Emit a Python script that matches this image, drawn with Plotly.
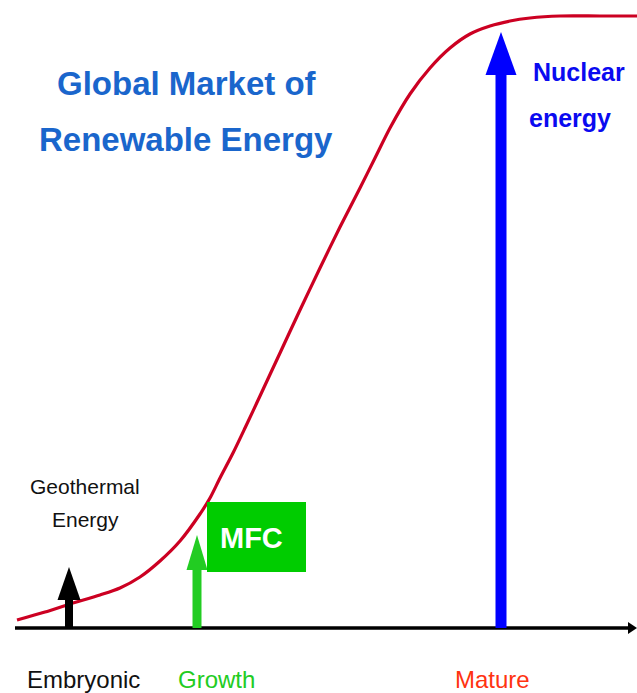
import plotly.graph_objects as go

# ---------------- data ----------------
# S-curve of market size (x: maturity axis, y: market level above baseline)
curve_x = [17, 45, 70, 100, 120, 140, 160, 180, 200, 210, 220, 233, 245, 260, 280, 300, 320, 340,
           360, 375, 390, 410, 430, 450, 470, 490, 510, 530, 560, 600, 637]
curve_y = [8, 16, 24, 33, 40, 51, 67, 87, 114, 130, 150, 175, 200, 232, 275, 318, 360, 401,
           440, 470, 500, 534, 560, 580, 594, 602, 607, 610, 612, 612, 612]

stages = ["Embryonic", "Growth", "Mature"]
stage_x = [83, 216, 492]

tech_names = ["Geothermal Energy", "MFC", "Nuclear energy"]
tech_x = [69, 197, 501]
tech_level = [61, 93, 596]

title_lines = ["Global Market of", "Renewable Energy"]

# ---------------- style ----------------
W, H = 637, 693
BASE_PX = 628          # pixel row of the baseline
Y_MIN, Y_MAX = BASE_PX - H, BASE_PX
FONT = "Liberation Sans, Arial, sans-serif"

stage_colors = ["#111111", "#22cc22", "#ff3311"]
tech_colors = ["#000000", "#22cc22", "#0000ff"]
head_len = [33, 35, 43]
head_w = [23, 21, 31]
shaft_w = [8, 9, 11]


def py(pix):
    """convert a pixel row to y data value"""
    return BASE_PX - pix


fig = go.Figure()

fig.add_trace(go.Scatter(
    x=curve_x, y=curve_y, mode="lines",
    line=dict(color="#cc0022", width=3.2, shape="spline", smoothing=0.8),
    hoverinfo="skip", showlegend=False,
))

shapes = []
# baseline axis with arrow
shapes.append(dict(type="line", x0=15, x1=630, y0=0, y1=0, layer="above",
                   line=dict(color="#000000", width=3.5)))
shapes.append(dict(type="path", layer="above", fillcolor="#000000", line=dict(width=0),
                   path="M 628 6 L 637 0 L 628 -6 Z"))

# technology arrows
for xv, lv, c, hl, hw, sw in zip(tech_x, tech_level, tech_colors, head_len, head_w, shaft_w):
    shapes.append(dict(type="line", x0=xv, x1=xv, y0=0, y1=lv - hl + 2, layer="above",
                       line=dict(color=c, width=sw)))
    shapes.append(dict(type="path", layer="above", fillcolor=c, line=dict(width=0),
                       path=f"M {xv - hw / 2} {lv - hl} L {xv + hw / 2} {lv - hl} L {xv} {lv} Z"))

# MFC box
shapes.append(dict(type="rect", x0=207, x1=306, y0=py(572), y1=py(502), layer="above",
                   fillcolor="#00cc00", line=dict(width=0)))

annotations = []
# title
annotations.append(dict(x=187, y=py(83), text=f"<b>{title_lines[0]}</b>", showarrow=False,
                        xanchor="center", yanchor="middle",
                        font=dict(family=FONT, size=33, color="#1a66cc")))
annotations.append(dict(x=186, y=py(139), text=f"<b>{title_lines[1]}</b>", showarrow=False,
                        xanchor="center", yanchor="middle",
                        font=dict(family=FONT, size=33, color="#1a66cc")))

# stage labels
for s, xv, c in zip(stages, stage_x, stage_colors):
    annotations.append(dict(x=xv, y=py(679), text=s, showarrow=False,
                            xanchor="center", yanchor="middle",
                            font=dict(family=FONT, size=24, color=c)))

# Geothermal label
g1, g2 = tech_names[0].split(" ")
annotations.append(dict(x=85, y=py(486), text=g1, showarrow=False, xanchor="center", yanchor="middle",
                        font=dict(family=FONT, size=21, color="#111111")))
annotations.append(dict(x=85, y=py(519), text=g2, showarrow=False, xanchor="center", yanchor="middle",
                        font=dict(family=FONT, size=21, color="#111111")))

# MFC label
annotations.append(dict(x=251, y=py(538), text=f"<b>{tech_names[1]}</b>", showarrow=False,
                        xanchor="center", yanchor="middle",
                        font=dict(family=FONT, size=29, color="#ffffff")))

# Nuclear label
n1, n2 = tech_names[2].split(" ")
annotations.append(dict(x=531, y=py(72), text=f"<b>{n1}</b>", showarrow=False, xanchor="left", yanchor="middle",
                        font=dict(family=FONT, size=25, color="#0a0af0")))
annotations.append(dict(x=527, y=py(118), text=f"<b>{n2}</b>", showarrow=False, xanchor="left", yanchor="middle",
                        font=dict(family=FONT, size=25, color="#0a0af0")))

fig.update_layout(
    width=W, height=H, margin=dict(l=0, r=0, t=0, b=0),
    paper_bgcolor="#ffffff", plot_bgcolor="#ffffff",
    xaxis=dict(range=[0, W], visible=False, fixedrange=True),
    yaxis=dict(range=[Y_MIN, Y_MAX], visible=False, fixedrange=True),
    shapes=shapes, annotations=annotations, showlegend=False,
)

fig.write_html("out.html", config={"displayModeBar": False})
